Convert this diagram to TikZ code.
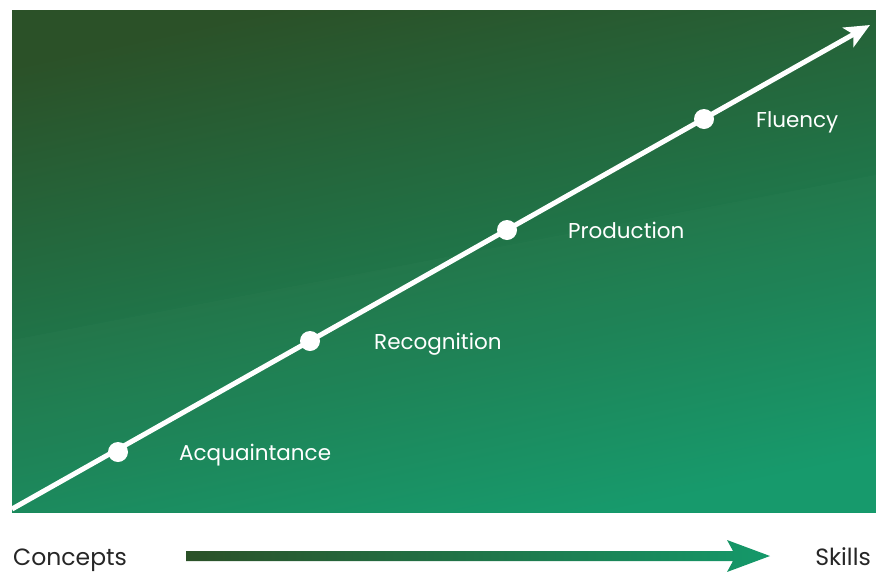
\documentclass[tikz,border=0pt]{standalone}
\usepackage{fontspec}
\setmainfont{Poppins}
\usetikzlibrary{positioning,arrows.meta}
\definecolor{BoardDark}{HTML}{2B5128}
\definecolor{BoardMid}{HTML}{24784A}
\definecolor{BoardLight}{HTML}{14996A}
\definecolor{LabelGray}{HTML}{262626}

\begin{document}
\begin{tikzpicture}[x=1pt,y=-1pt,line cap=round,line join=round,
    stage/.style={circle,fill=white,inner sep=0pt,minimum size=20pt},
    stagelabel/.style={text=white,font=\fontsize{21.5}{24}\selectfont,inner sep=0pt,anchor=base west},
    endlabel/.style={text=LabelGray,font=\fontsize{23.5}{28}\selectfont,inner sep=0pt}]
  \useasboundingbox (0,0) rectangle (876,571);
  % green board, with a faint lighter band below the diagonal
  \shade[top color=BoardDark,middle color=BoardMid,bottom color=BoardLight,shading angle=12]
    (12,10) rectangle (876,512);
  \fill[white,opacity=0.015] (12,340) -- (876,175) -- (876,512) -- (12,512) -- cycle;
  % learning line with its four stages
  \coordinate (start) at (12,509); \coordinate (tip) at (870,25);
  \draw[white,line width=5pt,line cap=butt,-{Stealth[length=25pt,width=22pt,inset=6pt]}] (start)--(tip);
  \node[stage] (acq) at (118,452) {}; \node[stage] (rec) at (310,341) {};
  \node[stage] (pro) at (507,230) {}; \node[stage] (flu) at (704,119) {};
  \node[stagelabel] at ([shift={(61,8)}]acq.center) {Acquaintance};
  \node[stagelabel] at ([shift={(64,8)}]rec.center) {Recognition};
  \node[stagelabel] at ([shift={(61,8)}]pro.center) {Production};
  \node[stagelabel] at ([shift={(52,8)}]flu.center) {Fluency};
  % concepts to skills
  \node[endlabel,anchor=base west] (concepts) at (13,565) {Concepts};
  \node[endlabel,anchor=base east] (skills) at (871,565) {Skills};
  \coordinate (from) at (186,556); \coordinate (to) at (770,556);
  \shade[left color=BoardDark,right color=BoardLight]
    ([yshift=-5pt]from) -- ([xshift=-37pt,yshift=-5pt]to) -- ([xshift=-43pt,yshift=-16pt]to)
    -- (to) -- ([xshift=-43pt,yshift=16pt]to) -- ([xshift=-37pt,yshift=5pt]to)
    -- ([yshift=5pt]from) -- cycle;
\end{tikzpicture}
\end{document}
